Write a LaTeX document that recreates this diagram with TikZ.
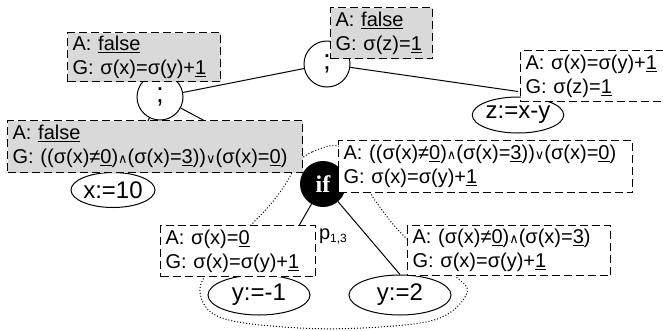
\documentclass[tikz,border=0pt]{standalone}
\usepackage{fontspec}
\setmainfont{Liberation Sans}
\newfontfamily\symfont{DejaVu Sans}
\newfontfamily\seriffont{Liberation Serif}
\usetikzlibrary{positioning, calc, shapes.geometric}

\newcommand{\wedgesym}{{\symfont\fontsize{13}{13}\selectfont ∧}}
\newcommand{\veesym}{{\symfont\fontsize{13}{13}\selectfont ∨}}
\newcommand{\ul}[1]{\underline{#1}}

\tikzset{
  cond/.style={draw, dash pattern=on 8pt off 4pt, line width=1.3pt, anchor=north west,
    align=left, inner xsep=5pt, inner ysep=2pt, font=\fontsize{20}{24}\selectfont},
  condgray/.style={cond, fill=black!15},
  condwhite/.style={cond, fill=white},
  stmt/.style={draw, ellipse, line width=1pt, inner sep=0pt, font=\fontsize{24}{24}\selectfont},
  seq/.style={draw, circle, line width=1pt, minimum size=46pt, inner sep=0pt,
    font=\fontsize{28}{28}\selectfont, fill=white},
  branch/.style={circle, fill=black, minimum size=46pt, inner sep=0pt, text=white,
    font=\seriffont\bfseries\fontsize{24}{24}\selectfont},
  edge/.style={line width=1pt},
}

\begin{document}
\begin{tikzpicture}[x=1pt, y=-1pt]
    \useasboundingbox (0,0) rectangle (663,330);
    \fill[white] (0,0) rectangle (663,330);

    % Statement nodes
    \node[seq] (seqtop) at (327,64) {;};
    \node[seq] (seqleft) at (160,97) {;};
    \node[stmt, minimum width=87pt, minimum height=36pt] (zassign) at (518,115) {z:=x-y};
    \node[stmt, minimum width=83pt, minimum height=35pt] (xassign) at (113,190) {x:=10};
    \node[branch] (ifnode) at (323,184) {if};
    \node[stmt, minimum width=102pt, minimum height=40pt] (yneg) at (259,295) {y:=-1};
    \node[stmt, minimum width=102pt, minimum height=40pt] (ytwo) at (400,295) {y:=2};

    % Edges
    \draw[edge] (seqtop) -- (seqleft);
    \draw[edge] (seqtop) -- ([yshift=5pt]zassign.north);
    \draw[edge] (seqleft) -- (xassign);
    \draw[edge] (seqleft) -- (ifnode);
    \draw[edge] (ifnode) -- (yneg);
    \draw[edge] (ifnode) -- (ytwo.north);
    \node[font=\fontsize{20}{20}\selectfont] (p13) at (333,236)
      {p\raisebox{-3pt}{\fontsize{12}{12}\selectfont 1,3}};

    % Region of the branch
    \draw[dotted, line width=1pt] plot[smooth cycle, tension=0.6] coordinates {
      (338,146) (312,152) (298,163) (285,185) (270,205) (250,226) (215,262)
      (200,292) (222,318) (300,328) (380,327) (440,318) (467,293) (455,276)
      (425,255) (400,232) (382,210) (370,192) (358,165)};

    % Assertions and guarantees
    \node[condgray, text width=143pt, minimum height=49pt] (condleft) at (67,32)
      {A:~\ul{false}\\G:~σ(x)=σ(y)+\ul{1}};
    \node[condgray, text width=92pt, minimum height=51pt] (condtop) at (330,7)
      {A:~\ul{false}\\G:~σ(z)=\ul{1}};
    \node[condwhite, text width=150pt, minimum height=51pt] (condz) at (520,50)
      {A:~σ(x)=σ(y)+\ul{1}\\G:~σ(z)=\ul{1}};
    \node[condgray, text width=285pt, minimum height=52pt] (condx) at (7,120)
      {A:~\ul{false}\\G:~((σ(x)≠\ul{0})\wedgesym(σ(x)=\ul{3}))\veesym(σ(x)=\ul{0})};
    \node[condwhite, text width=284pt, minimum height=52pt] (condif) at (338,140)
      {A:~((σ(x)≠\ul{0})\wedgesym(σ(x)=\ul{3}))\veesym(σ(x)=\ul{0})\\G:~σ(x)=σ(y)+\ul{1}};
    \node[condwhite, text width=145pt, minimum height=51pt] (condneg) at (160,225)
      {A:~σ(x)=\ul{0}\\G:~σ(x)=σ(y)+\ul{1}};
    \node[condwhite, text width=193pt, minimum height=50pt] (condtwo) at (407,225)
      {A:~(σ(x)≠\ul{0})\wedgesym(σ(x)=\ul{3})\\G:~σ(x)=σ(y)+\ul{1}};
\end{tikzpicture}
\end{document}
